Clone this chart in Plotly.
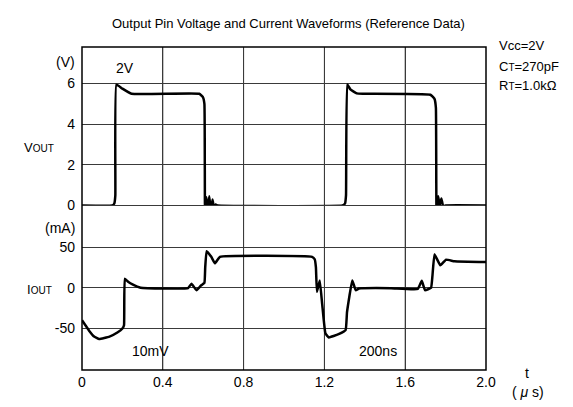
import plotly.graph_objects as go

# ---------------- data ----------------
t_vout = [0, 0.15, 0.160, 0.165, 0.170, 0.20, 0.245, 0.58, 0.598, 0.606, 0.609,
          0.616, 0.623, 0.630, 0.638, 0.646, 0.654, 0.662, 0.672,
          1.29, 1.302, 1.307, 1.313, 1.33, 1.36, 1.39, 1.725, 1.745, 1.752,
          1.755, 1.763, 1.771, 1.779, 1.788, 1.80, 2.0]
vout = [0, 0, 0.1, 0.5, 5.95, 5.75, 5.5, 5.5, 5.35, 5.0, -0.35,
        0.4, -0.3, 0.45, -0.3, 0.3, -0.15, 0.05, 0,
        0, 0.1, 0.5, 5.95, 5.7, 5.52, 5.5, 5.45, 5.25, 4.8,
        -0.35, 0.45, 0.0, 0.35, -0.05, 0, 0]

t_iout = [0, 0.036, 0.06, 0.085, 0.136, 0.175, 0.200, 0.208, 0.212, 0.23, 0.25, 0.29,
          0.525, 0.542, 0.567, 0.59, 0.606, 0.610, 0.617, 0.64, 0.658, 0.683,
          1.139, 1.152, 1.158, 1.163, 1.177, 1.189, 1.205, 1.222, 1.27, 1.305, 1.312,
          1.338, 1.355, 1.371, 1.53, 1.662, 1.682, 1.698, 1.728, 1.735, 1.745, 1.774,
          1.802, 1.844, 2.0]
iout = [-40, -53, -60, -63, -60, -55, -50, -46, 11, 7, 4, 0,
        -0.5, 5, -3, 3, 6, 25, 45, 38, 30, 38,
        38, 35, 25, -5, 9, -20, -56, -61, -57, -52, -30,
        9, -3, -1, -0.5, -1.5, 8.5, -3, 0, 15, 41, 27.5,
        34.5, 32.5, 31.5]

x_ticks = [0, 0.4, 0.8, 1.2, 1.6, 2.0]
x_ticklabels = ["0", "0.4", "0.8", "1.2", "1.6", "2.0"]
v_ticks = [0, 2, 4, 6]
i_ticks = [-50, 0, 50]
i_ticklabels = ["-50", "0", "50"]

# ---------------- layout geometry (reference pixel coordinates) ----------------
OFF = 8                      # page body margin
W, H = 573 - OFF, 407 - OFF
L, R, T, B = 82, 486, 47, 370
split = (B - 205.5) / (B - T)

def px(x, y):
    return (x - L) / (R - L), (B - y) / (B - T)

FONT = "Liberation Sans, Arial, sans-serif"
LINE = dict(color="black", width=2.5)

fig = go.Figure()
fig.add_trace(go.Scatter(x=t_vout, y=vout, mode="lines", line=LINE,
                         xaxis="x", yaxis="y2", line_shape="spline",
                         line_smoothing=0.3, hoverinfo="skip"))
fig.add_trace(go.Scatter(x=t_iout, y=iout, mode="lines", line=LINE,
                         xaxis="x", yaxis="y", line_shape="spline",
                         line_smoothing=0.3, hoverinfo="skip"))

grid = "#3a3a3a"
fig.update_layout(
    width=W, height=H,
    margin=dict(l=L - OFF, r=573 - R, t=T - OFF, b=407 - B),
    paper_bgcolor="white", plot_bgcolor="white",
    showlegend=False,
    font=dict(family=FONT, size=14, color="black"),
    xaxis=dict(range=[0, 2.0], tickvals=x_ticks, ticktext=x_ticklabels,
               showgrid=True, gridcolor=grid, gridwidth=1, zeroline=False,
               showline=False, ticks="", anchor="y", ticklabelstandoff=2,
               tickfont=dict(size=14)),
    yaxis=dict(domain=[0, split], range=[-101, 101], tickvals=i_ticks,
               ticktext=i_ticklabels, showgrid=True, gridcolor=grid,
               gridwidth=1, zeroline=False, showline=False, ticks="",
               anchor="x", ticklabelstandoff=6, tickfont=dict(size=14)),
    yaxis2=dict(domain=[split, 1], range=[0, 7.8], tickvals=v_ticks,
                showgrid=True, gridcolor=grid, gridwidth=1, zeroline=False,
                showline=False, ticks="", anchor="x", ticklabelstandoff=6,
                tickfont=dict(size=14)),
)

shapes = []
shapes.append(dict(type="line", xref="paper", yref="paper", x0=0, x1=1,
                   y0=split, y1=split, line=dict(color=grid, width=1)))
for xv in x_ticks[1:-1]:
    shapes.append(dict(type="line", xref="x", yref="paper", x0=xv, x1=xv,
                       y0=0, y1=1, line=dict(color=grid, width=1), layer="below"))
shapes.append(dict(type="rect", xref="paper", yref="paper", x0=0, x1=1, y0=0, y1=1,
                   line=dict(color="black", width=1.5)))
fig.update_layout(shapes=shapes)

def ann(text, x, y, size=13, xanchor="center"):
    ax, ay = px(x, y)
    fig.add_annotation(text=text, x=ax, y=ay, xref="paper", yref="paper",
                       showarrow=False, xanchor=xanchor, yanchor="middle",
                       font=dict(family=FONT, size=size, color="black"))

ann("Output Pin Voltage and Current Waveforms (Reference Data)", 288, 23, 13)
ann("(V)", 77, 62, 14, "right")
ann("2V", 125, 68, 14)
ann("V<span style='font-size:10px'>OUT</span>", 22, 147, 13, "left")
ann("(mA)", 77, 228, 14, "right")
ann("I<span style='font-size:10px'>OUT</span>", 25, 289, 13, "left")
ann("10mV", 150, 351, 14)
ann("200ns", 378, 351, 14)
ann("Vcc=2V", 497, 46, 13, "left")
ann("C<span style='font-size:10px'>T</span>=270pF", 497, 66, 13, "left")
ann("R<span style='font-size:10px'>T</span>=1.0kΩ", 497, 85, 13, "left")
ann("t", 527, 373, 14)
ann("( <i>μ</i> s)", 528, 392, 14)

fig.write_html("out.html")
